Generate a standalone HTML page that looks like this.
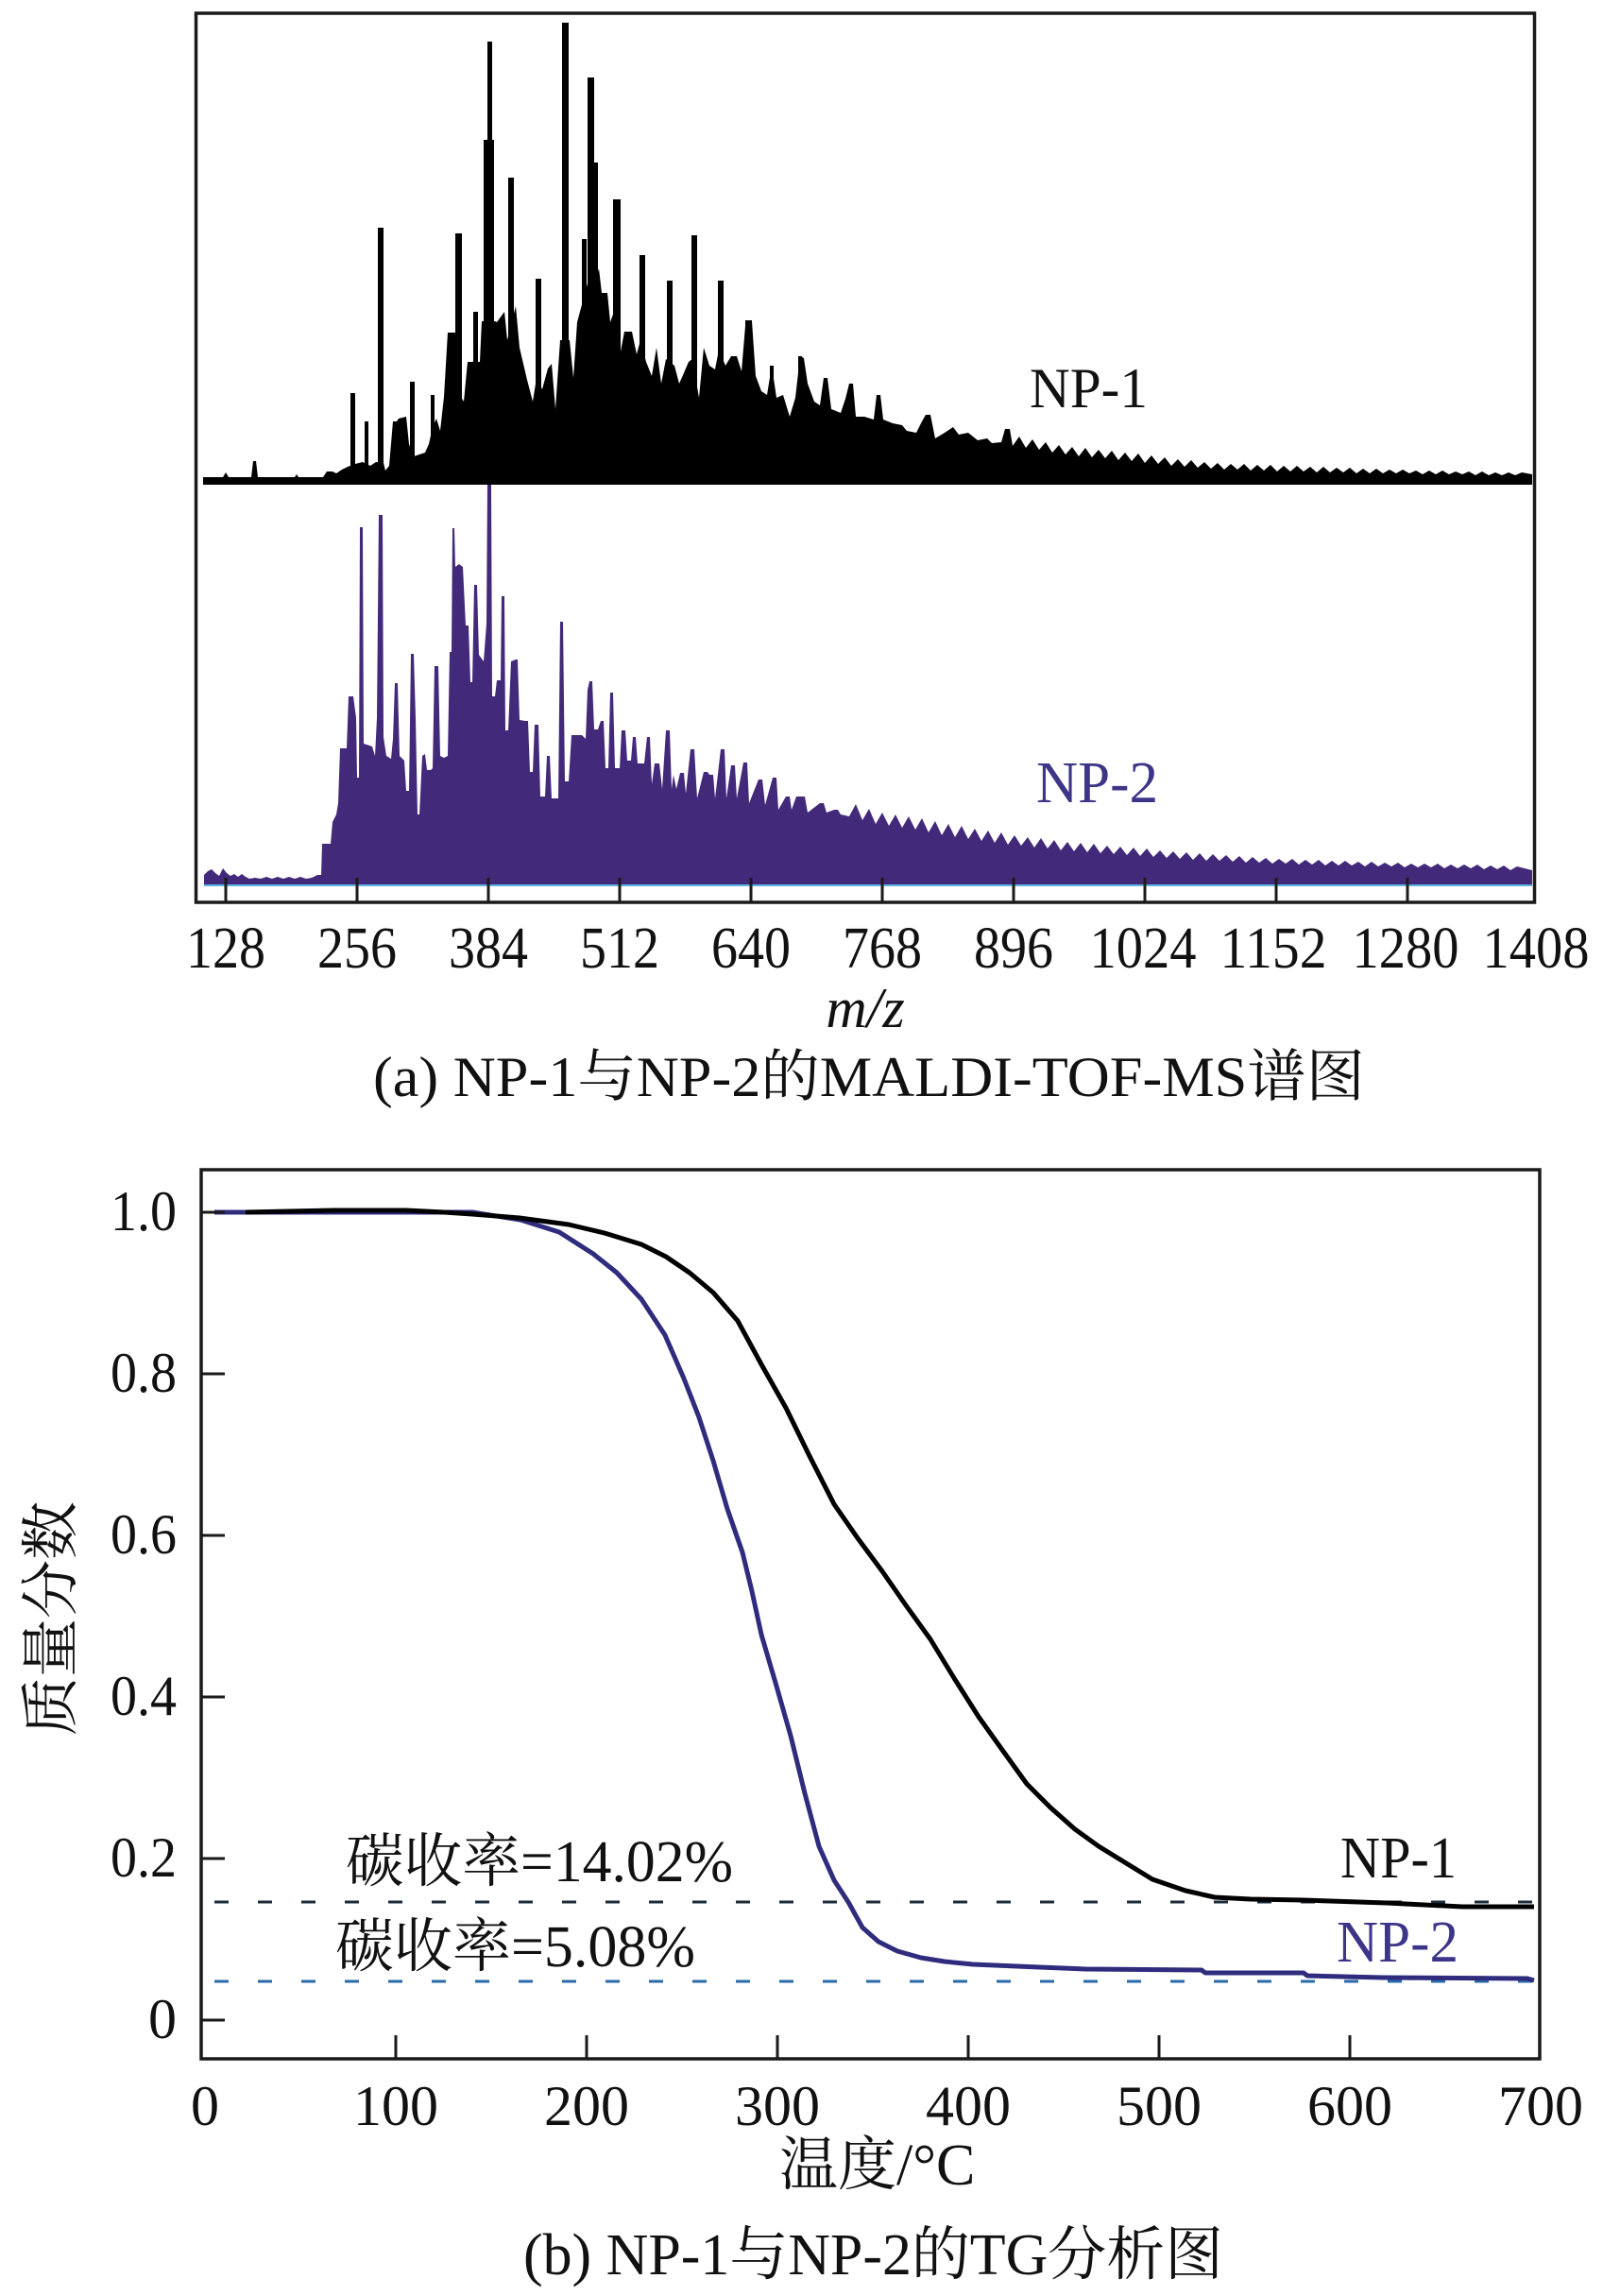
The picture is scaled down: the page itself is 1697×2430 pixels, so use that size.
<!DOCTYPE html>
<html>
<head>
<meta charset="utf-8">
<style>
html,body{margin:0;padding:0;background:#fff;}
svg{display:block;}
.t{font-family:"Liberation Serif","Noto Serif CJK SC",serif;fill:#111;}
</style>
</head>
<body>
<svg width="1697" height="2430" viewBox="0 0 1697 2430" xmlns="http://www.w3.org/2000/svg">
<rect x="0" y="0" width="1697" height="2430" fill="#fff"/>

<!-- ================= TOP PANEL ================= -->
<!-- NP-2 spectrum -->
<polygon fill="#43297a" points="216,936 216,926 220,922 224,920 228,924 232,927 236,919 240,924 244,927 248,925 252,928 256,925 260,928 264,930 270,929 276,930 282,928 288,930 294,928 300,930 306,928 312,930 318,928 324,930 330,929 336,926 340,926 341,893 350,893 352,870 356,862 358,850 360,792 367,792 369,737 374,737 377,760 378,823 380,823 381,558 384,558 385,787 394,790 397,800 399,760 401,545 405,545 406,780 409,800 414,803 416,782 418,723 421,723 423,800 428,805 430,837 433,837 435,692 438,692 440,760 442,862 444,862 447,800 450,798 452,815 456,815 458,813 460,705 464,705 466,800 470,802 474,800 476,690 478,690 479,559 481,559 482,600 486,597 490,600 493,662 496,662 498,722 500,722 502,619 505,619 507,693 512,700 515,660 516,513 520,513 521,737 524,737 526,720 530,720 531,631 534,631 535,773 538,773 541,700 546,698 548,698 550,762 556,763 559,763 561,817 564,817 566,767 570,767 572,843 577,843 579,800 582,800 584,845 591,845 593,658 596,658 598,827 602,827 605,778 616,778 620,782 622,730 624,721 627,721 629,772 633,772 636,763 639,763 641,813 644,813 646,733 649,733 651,813 656,813 658,773 662,773 664,805 668,805 670,780 673,780 675,808 682,808 685,780 688,780 690,830 693,808 698,808 701,835 705,773 709,773 711,835 713,820 716,835 720,818 724,818 726,840 731,793 735,793 738,845 745,817 749,817 751,820 755,820 757,845 763,793 767,793 769,845 774,810 778,810 780,845 787,807 791,807 793,850 803,825 807,825 810,852 818,823 822,823 824,857 832,843 836,843 838,857 843,843 852,843 855,860 868,850 872,850 875,860 883,857 887,857 890,862 899,864 906,851 913,868 920,856 927,872 934,860 941,874 948,862 955,876 962,864 969,878 976,866 983,881 990,869 997,884 1004,872 1011,886 1018,874 1025,888 1032,877 1039,890 1046,879 1053,892 1060,881 1067,894 1074,884 1081,895 1088,886 1095,897 1102,887 1109,898 1116,889 1123,900 1130,891 1137,901 1144,892 1151,902 1158,893 1165,903 1172,895 1179,904 1186,896 1193,905 1200,897 1207,906 1214,898 1221,907 1228,900 1235,908 1242,901 1249,909 1256,902 1263,910 1270,903 1277,911 1284,904 1291,911 1298,905 1305,912 1312,906 1319,913 1326,907 1333,913 1340,908 1347,914 1354,909 1361,914 1368,909 1375,915 1382,910 1389,915 1396,910 1403,916 1410,911 1417,916 1424,911 1431,916 1438,912 1445,917 1452,912 1459,917 1466,913 1473,917 1480,913 1487,918 1494,914 1501,918 1508,914 1515,918 1522,914 1529,919 1536,915 1543,919 1550,915 1557,919 1564,915 1571,920 1578,916 1585,920 1592,916 1599,921 1606,917 1622,921 1622,936"/>
<line x1="216" y1="937" x2="1622" y2="937" stroke="#5ab4e0" stroke-width="2"/>

<!-- NP-1 spectrum -->
<path fill="#000" d="M215,513 L215,505 L236,505 L239,500 L242,505 L266,505 L268,488 L271,488 L273,505 L312,505 L314,502 L316,505 L342,505 L346,499 L352,499 L356,501 L362,497 L368,494 L376,491 L384,489 L392,493 L398,489 L406,490 L408,498 L412,493 L416,446 L420,446 L422,443 L430,441 L433,470 L438,483 L444,481 L450,479 L454,470 L458,452 L462,443 L466,456 L470,420 L474,352 L484,352 L488,420 L491,425 L495,383 L500,383 L508,383 L510,340 L524,340 L526,341 L534,330 L537,360 L546,324 L550,368 L558,402 L564,425 L568,400 L574,412 L580,390 L584,385 L588,433 L593,360 L603,360 L607,400 L611,341 L622,300 L630,300 L634,284 L637,310 L643,310 L646,341 L650,330 L657,372 L661,351 L669,351 L674,375 L678,360 L684,383 L690,398 L695,368 L700,406 L705,380 L714,387 L719,406 L723,397 L729,383 L733,380 L740,421 L745,368 L751,387 L757,391 L761,370 L768,387 L774,377 L780,377 L785,393 L789,345 L796,340 L800,398 L806,414 L812,418 L817,387 L822,421 L829,418 L836,441 L842,421 L847,377 L851,379 L855,406 L862,425 L868,429 L872,400 L876,400 L880,433 L890,437 L895,422 L899,406 L903,406 L906,441 L915,441 L925,444 L928,418 L932,418 L935,444 L945,448 L955,450 L960,456 L970,458 L976,446 L980,439 L985,439 L990,464 L1000,458 L1009,452 L1015,460 L1025,458 L1035,466 L1045,464 L1050,469 L1060,468 L1064,454 L1069,454 L1072,472 L1079,462 L1086,474 L1093,465 L1100,476 L1107,468 L1114,479 L1121,471 L1128,481 L1135,473 L1142,483 L1149,474 L1156,484 L1163,476 L1170,485 L1177,477 L1184,487 L1191,479 L1198,488 L1205,480 L1212,490 L1219,482 L1226,491 L1233,484 L1240,493 L1247,486 L1254,494 L1261,487 L1268,495 L1275,489 L1282,496 L1289,490 L1296,497 L1303,491 L1310,497 L1317,491 L1324,498 L1331,492 L1338,498 L1345,492 L1352,499 L1359,493 L1366,499 L1373,493 L1380,499 L1387,494 L1394,500 L1401,494 L1408,500 L1415,495 L1422,500 L1429,495 L1436,501 L1443,496 L1450,501 L1457,496 L1464,501 L1471,497 L1478,501 L1485,497 L1492,501 L1499,498 L1506,502 L1513,498 L1520,502 L1527,498 L1534,502 L1541,499 L1548,502 L1555,499 L1562,503 L1569,499 L1576,503 L1583,500 L1590,503 L1597,500 L1604,503 L1611,500 L1622,502 L1622,513 Z"/>
<g fill="#000">
<rect x="371" y="416" width="5" height="90"/>
<rect x="386" y="446" width="4" height="60"/>
<rect x="400" y="241" width="6" height="265"/>
<rect x="434" y="404" width="5" height="100"/>
<rect x="456" y="418" width="4" height="90"/>
<rect x="482" y="247" width="7" height="260"/>
<rect x="501" y="330" width="5" height="180"/>
<rect x="512" y="148" width="11" height="360"/>
<rect x="516" y="44" width="5" height="460"/>
<rect x="538" y="188" width="6" height="320"/>
<rect x="567" y="295" width="6" height="210"/>
<rect x="595" y="24" width="7" height="480"/>
<rect x="616" y="253" width="5" height="250"/>
<rect x="622" y="82" width="7" height="420"/>
<rect x="628" y="172" width="5" height="330"/>
<rect x="649" y="211" width="8" height="290"/>
<rect x="677" y="270" width="6" height="230"/>
<rect x="706" y="297" width="6" height="210"/>
<rect x="732" y="249" width="6" height="250"/>
<rect x="760" y="297" width="6" height="210"/>
<rect x="789" y="339" width="7" height="170"/>
<rect x="815" y="387" width="4" height="120"/>
<rect x="845" y="377" width="4" height="130"/>
</g>

<!-- top frame -->
<rect x="207.5" y="14" width="1417" height="941" fill="none" stroke="#1a1a1a" stroke-width="3.5"/>
<g stroke="#1a1a1a" stroke-width="3">
<line x1="239" y1="955" x2="239" y2="929"/>
<line x1="378" y1="955" x2="378" y2="929"/>
<line x1="517" y1="955" x2="517" y2="929"/>
<line x1="656" y1="955" x2="656" y2="929"/>
<line x1="795" y1="955" x2="795" y2="929"/>
<line x1="934" y1="955" x2="934" y2="929"/>
<line x1="1073" y1="955" x2="1073" y2="929"/>
<line x1="1212" y1="955" x2="1212" y2="929"/>
<line x1="1351" y1="955" x2="1351" y2="929"/>
<line x1="1490" y1="955" x2="1490" y2="929"/>
</g>
<g class="t" font-size="62" text-anchor="middle">
<text x="239" y="1024" textLength="84" lengthAdjust="spacingAndGlyphs">128</text>
<text x="378" y="1024" textLength="84" lengthAdjust="spacingAndGlyphs">256</text>
<text x="517" y="1024" textLength="84" lengthAdjust="spacingAndGlyphs">384</text>
<text x="656" y="1024" textLength="84" lengthAdjust="spacingAndGlyphs">512</text>
<text x="795" y="1024" textLength="84" lengthAdjust="spacingAndGlyphs">640</text>
<text x="934" y="1024" textLength="84" lengthAdjust="spacingAndGlyphs">768</text>
<text x="1073" y="1024" textLength="84" lengthAdjust="spacingAndGlyphs">896</text>
<text x="1210" y="1024" textLength="113" lengthAdjust="spacingAndGlyphs">1024</text>
<text x="1348" y="1024" textLength="113" lengthAdjust="spacingAndGlyphs">1152</text>
<text x="1488" y="1024" textLength="113" lengthAdjust="spacingAndGlyphs">1280</text>
<text x="1626" y="1024" textLength="113" lengthAdjust="spacingAndGlyphs">1408</text>
</g>
<text class="t" x="916" y="1087" font-size="60" font-style="italic" text-anchor="middle">m/z</text>
<text class="t" x="395" y="1160" font-size="60" textLength="1050" lengthAdjust="spacingAndGlyphs">(a) NP-1与NP-2的MALDI-TOF-MS谱图</text>
<text class="t" x="1090" y="431" font-size="60" textLength="125" lengthAdjust="spacingAndGlyphs">NP-1</text>
<text class="t" x="1097" y="849" font-size="62" textLength="129" lengthAdjust="spacingAndGlyphs" style="fill:#3d3588">NP-2</text>

<!-- ================= BOTTOM PANEL ================= -->
<line x1="227" y1="2013" x2="1624" y2="2013" stroke="#1c2b3a" stroke-width="3" stroke-dasharray="15 31"/>
<line x1="227" y1="2097" x2="1624" y2="2097" stroke="#2a6aa8" stroke-width="3" stroke-dasharray="15 31"/>

<polyline fill="none" stroke="#2f2c7e" stroke-width="5" stroke-linejoin="round" points="227,1283 500,1283 551,1291 592,1304 628,1327 653,1347 679,1375 704,1413 724,1459 740,1500 755,1546 770,1597 786,1643 796,1684 806,1730 821,1781 837,1837 852,1898 867,1954 883,1990 898,2013 913,2040 930,2055 950,2065 975,2072 1000,2076 1030,2079 1100,2082 1150,2084 1272,2085 1276,2088 1380,2088 1384,2091 1464,2093 1617,2094 1624,2096"/>
<polyline fill="none" stroke="#000" stroke-width="5" stroke-linejoin="round" points="260,1283 353,1281 430,1281 470,1283 500,1285 550,1289 602,1296 640,1305 679,1317 705,1330 730,1347 755,1368 781,1398 806,1444 832,1490 857,1541 883,1592 908,1628 934,1663 959,1699 985,1735 1010,1776 1036,1817 1061,1852 1087,1888 1112,1913 1138,1936 1163,1954 1189,1970 1220,1989 1255,2001 1286,2008 1324,2010 1380,2011 1468,2014 1548,2018 1624,2018"/>

<rect x="213" y="1238" width="1417" height="941" fill="none" stroke="#1a1a1a" stroke-width="3.5"/>
<g stroke="#1a1a1a" stroke-width="3">
<line x1="213" y1="1283" x2="238" y2="1283"/>
<line x1="213" y1="1454" x2="238" y2="1454"/>
<line x1="213" y1="1625" x2="238" y2="1625"/>
<line x1="213" y1="1796" x2="238" y2="1796"/>
<line x1="213" y1="1967" x2="238" y2="1967"/>
<line x1="213" y1="2138" x2="238" y2="2138"/>
<line x1="419" y1="2179" x2="419" y2="2154"/>
<line x1="621" y1="2179" x2="621" y2="2154"/>
<line x1="823" y1="2179" x2="823" y2="2154"/>
<line x1="1025" y1="2179" x2="1025" y2="2154"/>
<line x1="1227" y1="2179" x2="1227" y2="2154"/>
<line x1="1429" y1="2179" x2="1429" y2="2154"/>
</g>
<g class="t" font-size="60" text-anchor="end">
<text x="187" y="1302" textLength="70" lengthAdjust="spacingAndGlyphs">1.0</text>
<text x="187" y="1473" textLength="70" lengthAdjust="spacingAndGlyphs">0.8</text>
<text x="187" y="1644" textLength="70" lengthAdjust="spacingAndGlyphs">0.6</text>
<text x="187" y="1815" textLength="70" lengthAdjust="spacingAndGlyphs">0.4</text>
<text x="187" y="1986" textLength="70" lengthAdjust="spacingAndGlyphs">0.2</text>
<text x="187" y="2157">0</text>
</g>
<g class="t" font-size="60" text-anchor="middle">
<text x="217" y="2249">0</text>
<text x="419" y="2249">100</text>
<text x="621" y="2249">200</text>
<text x="823" y="2249">300</text>
<text x="1025" y="2249">400</text>
<text x="1227" y="2249">500</text>
<text x="1429" y="2249">600</text>
<text x="1631" y="2249">700</text>
</g>
<text class="t" x="366" y="1991" font-size="62" textLength="410" lengthAdjust="spacingAndGlyphs">碳收率=14.02%</text>
<text class="t" x="355" y="2081" font-size="62" textLength="381" lengthAdjust="spacingAndGlyphs">碳收率=5.08%</text>
<text class="t" x="1419" y="1987" font-size="62" textLength="123" lengthAdjust="spacingAndGlyphs">NP-1</text>
<text class="t" x="1415" y="2076" font-size="62" textLength="129" lengthAdjust="spacingAndGlyphs" style="fill:#3d3588">NP-2</text>
<text class="t" x="0" y="0" font-size="62" text-anchor="middle" transform="translate(75,1713) rotate(-90)">质量分数</text>
<text class="t" x="825" y="2312" font-size="62">温度/°C</text>
<text class="t" x="554" y="2407" font-size="62" textLength="741" lengthAdjust="spacingAndGlyphs">(b) NP-1与NP-2的TG分析图</text>
</svg>
</body>
</html>
